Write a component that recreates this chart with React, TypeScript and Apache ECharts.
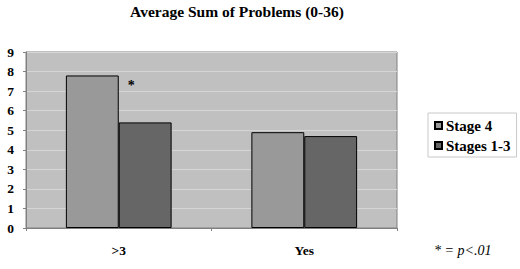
import React, { useEffect, useRef } from "react";
import * as echarts from "echarts";

const categories = [">3", "Yes"];
const stage4 = [7.8, 4.9];
const stages13 = [5.4, 4.7];
const seriesNames = ["Stage 4", "Stages 1-3"];
const titleText = "Average Sum of Problems (0-36)";
const footnote = "* = p<.01";
const starValue = 7.4;

const FONT = "Liberation Serif";

export default function App() {
  const ref = useRef<HTMLDivElement>(null);
  useEffect(() => {
    if (!ref.current) return;
    const chart = echarts.init(ref.current, null, { renderer: "svg" });
    chart.setOption({
      animation: false,
      backgroundColor: "#ffffff",
      title: {
        text: titleText,
        left: 237,
        textAlign: "center",
        top: 0,
        padding: [3, 0, 0, 0],
        textStyle: { fontFamily: FONT, fontWeight: "bold", fontSize: 15.5, lineHeight: 16, color: "#000" },
      },
      grid: {
        left: 26,
        right: 123,
        top: 52,
        bottom: 41,
        show: true,
        backgroundColor: "#c0c0c0",
        borderColor: "#808080",
        borderWidth: 1,
      },
      legend: {
        orient: "vertical",
        left: 428,
        top: 113,
        padding: [5, 6, 4, 6],
        itemGap: 5,
        itemWidth: 7,
        itemHeight: 7,
        icon: "rect",
        backgroundColor: "#ffffff",
        borderColor: "#c8c8c8",
        borderWidth: 1,
        textStyle: { fontFamily: FONT, fontWeight: "bold", fontSize: 15, color: "#000", padding: [0, 0, 0, -1] },
        data: seriesNames,
      },
      xAxis: {
        type: "category",
        data: categories,
        axisLine: { show: true, lineStyle: { color: "#808080" } },
        axisTick: { show: true, length: 3, lineStyle: { color: "#808080" } },
        axisLabel: { fontFamily: FONT, fontWeight: "bold", fontSize: 13.5, color: "#000", margin: 15 },
      },
      yAxis: {
        type: "value",
        min: 0,
        max: 9,
        interval: 1,
        axisLine: { show: true, lineStyle: { color: "#808080" } },
        axisTick: { show: true, length: 3, lineStyle: { color: "#808080" } },
        axisLabel: { fontFamily: FONT, fontWeight: "bold", fontSize: 13.5, color: "#000", margin: 12 },
        splitLine: { show: true, lineStyle: { color: "#d6d6d6", width: 1 } },
      },
      series: [
        {
          name: seriesNames[0],
          type: "bar",
          data: stage4,
          barGap: "0%",
          barCategoryGap: "43%",
          itemStyle: { color: "#999999", borderColor: "#000", borderWidth: 1 },
        },
        {
          name: seriesNames[1],
          type: "bar",
          data: stages13,
          barGap: "0%",
          barCategoryGap: "43%",
          itemStyle: { color: "#666666", borderColor: "#000", borderWidth: 1 },
          markPoint: {
            symbol: "circle",
            symbolSize: 0,
            data: [{ coord: [0, starValue] }],
            label: {
              show: true,
              formatter: "*",
              offset: [-14, 2],
              fontFamily: FONT,
              fontWeight: "bold",
              fontSize: 14,
              color: "#000",
            },
          },
        },
      ],
      graphic: [
        {
          type: "text",
          left: 434,
          top: 243,
          style: {
            text: footnote,
            font: `italic 14px ${FONT}`,
            fill: "#000",
          },
        },
      ],
    });
    return () => chart.dispose();
  }, []);
  return (
    <div
      ref={ref}
      style={{ position: "absolute", left: 0, top: 0, width: 520, height: 269 }}
    />
  );
}
